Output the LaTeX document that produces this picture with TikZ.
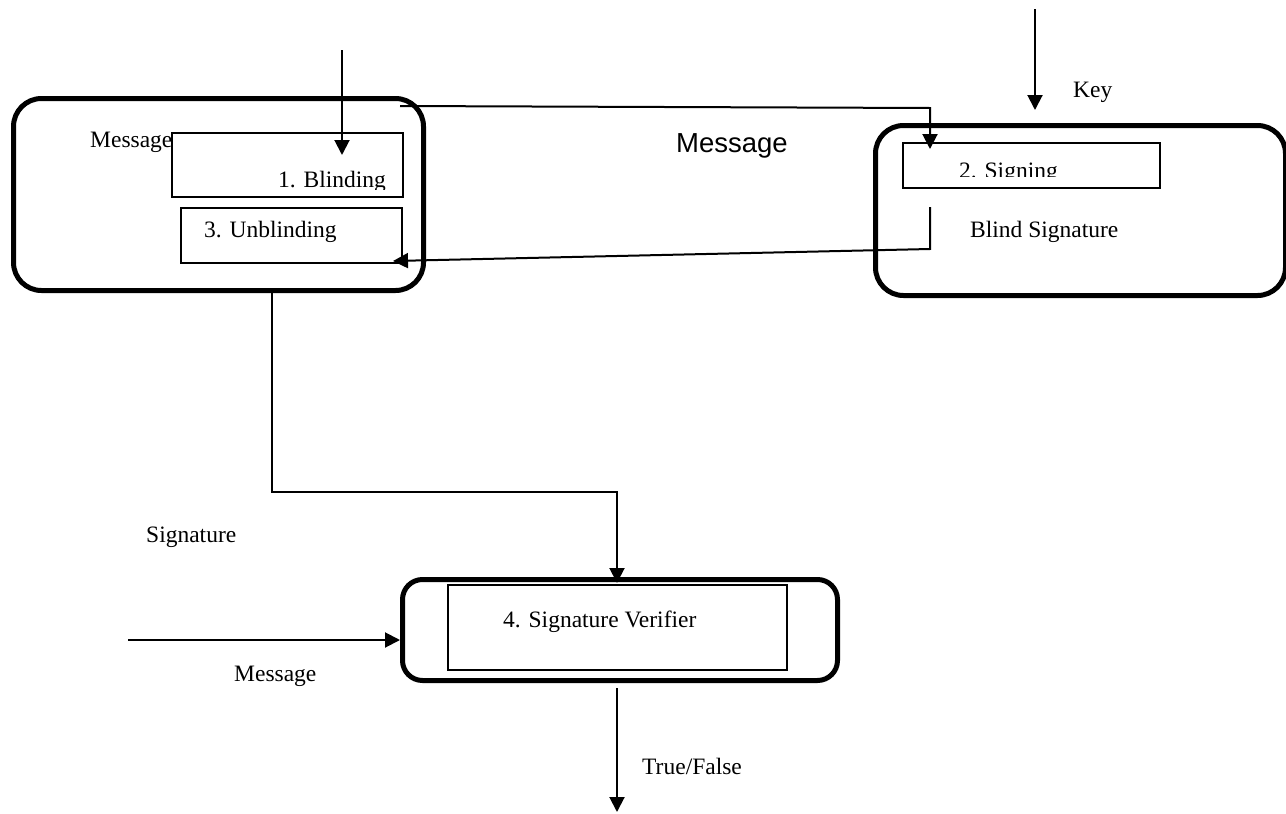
\documentclass[tikz,border=0pt]{standalone}
\usepackage{fontspec}
\setmainfont{Liberation Serif}
\newfontfamily\arialfont{Liberation Sans}
\usetikzlibrary{arrows.meta}

\begin{document}
\begin{tikzpicture}[x=1pt,y=-1pt,
  party/.style={draw, line width=5pt, rounded corners=28pt, inner sep=0pt,
                anchor=north west},
  stagebox/.style={draw, line width=1.5pt, inner sep=0pt, anchor=north west},
  lbl/.style={inner sep=0pt, anchor=base west,
              font=\fontsize{23.5}{28}\selectfont},
  flow/.style={line width=2pt, -{Triangle[length=15pt,width=15pt]}},
  plain/.style={line width=2pt}
]
\fill[white] (0,0) rectangle (1286,814);
\useasboundingbox (0,0) rectangle (1286,814);

% --- user side: blinding and unblinding
\node[party, minimum width=410pt, minimum height=192pt] (user) at (11,96) {};
\node[stagebox, minimum width=231pt, minimum height=64pt] (blind) at (171,132) {};
\node[stagebox, minimum width=221pt, minimum height=55pt] (unblind) at (180,207) {};
\node[lbl] (msgA) at (90,147) {Message};
\begin{scope}
  \clip (171,132) rectangle (402,189);
  \node[lbl] (blindtxt) at (278,187) {1. Blinding};
\end{scope}
\node[lbl] (unblindtxt) at (204,237) {3. Unblinding};

% --- signer side
\node[party, minimum width=410pt, minimum height=170pt] (signer) at (873,123) {};
\node[stagebox, minimum width=257pt, minimum height=45pt] (sign) at (902,142) {};
\begin{scope}
  \clip (902,142) rectangle (1159,176.5);
  \node[lbl] (signtxt) at (959,178) {2. Signing};
\end{scope}
\node[lbl] (bsig) at (970,237) {Blind Signature};
\node[lbl] (key) at (1073,97) {Key};

% --- verifier
\node[party, rounded corners=20pt, minimum width=435pt, minimum height=101pt] (verify) at (400,577) {};
\node[stagebox, minimum width=339pt, minimum height=85pt] (verin) at (447,584) {};
\node[lbl] (vertxt) at (503,627) {4. Signature Verifier};

% --- free labels
\node[inner sep=0pt, anchor=base west, font=\arialfont\fontsize{27.5}{32}\selectfont] (msgB) at (676,152) {Message};
\node[lbl] (sigtxt) at (146,542) {Signature};
\node[lbl] (msgC) at (234,681) {Message};
\node[lbl] (tf) at (642,774) {True/False};

% --- connector end points
\coordinate (inA) at (342,50);
\coordinate (inAend) at (342,155);
\coordinate (mstart) at (400,106);
\coordinate (mbend) at (930,108);
\coordinate (mend) at (930,149);
\coordinate (keyin) at (1035,9);
\coordinate (keyend) at (1035,110);
\coordinate (bstart) at (930,207);
\coordinate (bbend) at (930,249);
\coordinate (bend) at (393,261);
\coordinate (sstart) at (272,290);
\coordinate (sbend1) at (272,492);
\coordinate (sbend2) at (617,492);
\coordinate (send) at (617,583);
\coordinate (vin) at (128,640);
\coordinate (vout) at (617,688);
\coordinate (vres) at (617,812);

% --- connectors
\draw[flow] (inA) -- (inAend);
\draw[flow] (mstart) -- (mbend) -- (mend);
\draw[flow] (keyin) -- (keyend);
\draw[flow] (bstart) -- (bbend) -- (bend);
\draw[flow] (sstart) -- (sbend1) -- (sbend2) -- (send);
\draw[flow] (vin) -- (vin -| verify.west);
\draw[flow] (vout) -- (vres);
\end{tikzpicture}
\end{document}
